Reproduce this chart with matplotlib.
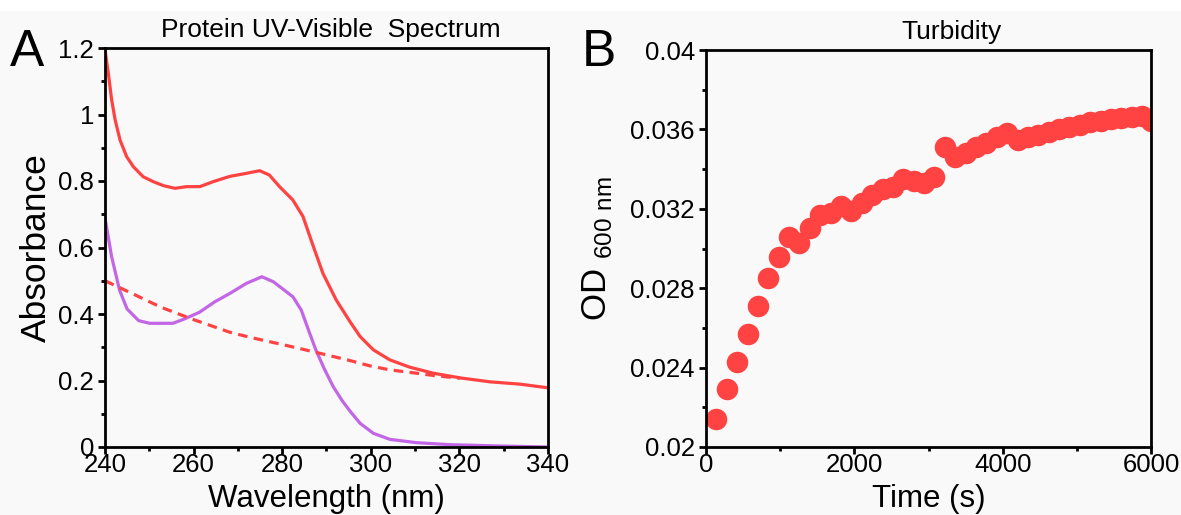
import matplotlib
matplotlib.use("Agg")
import matplotlib.pyplot as plt
from matplotlib.patches import Rectangle
from matplotlib.ticker import MultipleLocator, FixedLocator

plt.rcParams['font.family'] = ['Liberation Sans', 'DejaVu Sans']
plt.rcParams['mathtext.fontset'] = 'custom'
plt.rcParams['mathtext.rm'] = 'Liberation Sans'

# Panel A: UV-Vis spectra
wl_rot = [240, 240.75, 241.5, 242.3, 243.4, 244.9, 246.4, 248.6, 250.9, 253.2, 255.8,
          258.4, 261.4, 264.4, 268.2, 271.9, 274.9, 277.1, 279.4, 282.4, 284.7,
          286.9, 289.2, 292.2, 295.3, 297.6, 300.6, 304.3, 308.8, 314.1, 320.1,
          326.9, 333.7, 340]
abs_rot = [1.195, 1.124, 1.044, 0.983, 0.923, 0.873, 0.843, 0.813, 0.798, 0.786, 0.778,
           0.783, 0.783, 0.798, 0.814, 0.823, 0.831, 0.818, 0.783, 0.743, 0.693,
           0.608, 0.522, 0.442, 0.377, 0.332, 0.292, 0.262, 0.240, 0.222, 0.208,
           0.196, 0.189, 0.178]

wl_lila = [240, 241.5, 243.3, 245.0, 247.6, 250.1, 255.3, 257.9, 261.3, 264.7, 268.2,
           271.9, 275.4, 278.0, 282.4, 284.3, 286.2, 287.6, 289.5, 291.5, 293.5,
           295.3, 297.6, 300.6, 304.3, 310.3, 317.9, 329.2, 340]
abs_lila = [0.689, 0.572, 0.471, 0.415, 0.380, 0.372, 0.372, 0.385, 0.405, 0.436, 0.462,
            0.492, 0.512, 0.497, 0.452, 0.412, 0.342, 0.292, 0.235, 0.182, 0.140,
            0.108, 0.071, 0.041, 0.023, 0.013, 0.007, 0.003, 0.0]

wl_streu = [240, 246.7, 252.7, 259.6, 268.2, 272.7, 279.4, 284.0, 290.0, 295.3,
            299.8, 304.3, 310.3, 314.8, 320.1]
abs_streu = [0.500, 0.458, 0.420, 0.385, 0.345, 0.330, 0.310, 0.296, 0.277, 0.260,
             0.244, 0.232, 0.222, 0.214, 0.207]

# Panel B: turbidity
zeit = [0, 140, 280, 420, 560, 700, 840, 980, 1120, 1260, 1400, 1540, 1680, 1820,
        1960, 2100, 2240, 2380, 2520, 2660, 2800, 2940, 3080, 3220, 3360, 3500,
        3640, 3780, 3920, 4060, 4200, 4340, 4480, 4620, 4760, 4900, 5040, 5180,
        5320, 5460, 5600, 5740, 5880, 6000]
od600 = [0.0195, 0.0214, 0.0229, 0.0243, 0.0257, 0.0271, 0.0285, 0.02955, 0.0306,
         0.0303, 0.03105, 0.0317, 0.0318, 0.03215, 0.0319, 0.0323, 0.0327, 0.0330,
         0.0331, 0.0335, 0.0334, 0.0333, 0.0336, 0.0351, 0.0346, 0.0348, 0.0351,
         0.0353, 0.0356, 0.0358, 0.03546, 0.0356, 0.0357, 0.03585, 0.0360, 0.0361,
         0.0362, 0.03635, 0.0364, 0.0365, 0.03655, 0.0366, 0.0367, 0.0364]

rot = '#ff4242'
lila = '#c266e6'
grau = '#f9f9f9'

fig = plt.figure(figsize=(11.81, 5.15), dpi=100, facecolor=grau)
fig.patches.append(Rectangle((0, 1 - 10 / 515), 1, 10 / 515, transform=fig.transFigure,
                             color='white', zorder=-1))

axA = fig.add_axes([105 / 1181, 1 - 447 / 515, 443 / 1181, 399 / 515], facecolor=grau)
axB = fig.add_axes([706 / 1181, 1 - 447 / 515, 445 / 1181, 397 / 515], facecolor=grau)

axA.plot(wl_rot, abs_rot, color=rot, lw=2.3, solid_joinstyle='round')
axA.plot(wl_lila, abs_lila, color=lila, lw=2.3, solid_joinstyle='round')
axA.plot(wl_streu, abs_streu, color=rot, lw=2.3, ls=(0, (3, 2)))
axA.set_xlim(240, 340)
axA.set_ylim(0, 1.2)
axA.xaxis.set_major_locator(MultipleLocator(20))
axA.xaxis.set_minor_locator(MultipleLocator(10))
axA.yaxis.set_major_locator(FixedLocator([0, 0.2, 0.4, 0.6, 0.8, 1.0, 1.2]))
axA.yaxis.set_minor_locator(MultipleLocator(0.1))
axA.set_yticklabels(['0', '0.2', '0.4', '0.6', '0.8', '1', '1.2'])
axA.set_xlabel('Wavelength (nm)', fontsize=22.5, labelpad=5)
axA.set_ylabel('Absorbance', fontsize=25.5, labelpad=4)
axA.set_title('Protein UV-Visible  Spectrum', fontsize=19, x=0.51, pad=8)

axB.plot(zeit, od600, 'o', color=rot, ms=15.5, mec='none')
axB.set_xlim(0, 6000)
axB.set_ylim(0.02, 0.04)
axB.xaxis.set_major_locator(MultipleLocator(2000))
axB.xaxis.set_minor_locator(MultipleLocator(1000))
axB.yaxis.set_major_locator(FixedLocator([0.02, 0.024, 0.028, 0.032, 0.036, 0.04]))
axB.yaxis.set_minor_locator(MultipleLocator(0.002))
axB.set_yticklabels(['0.02', '0.024', '0.028', '0.032', '0.036', '0.04'])
axB.set_xlabel('Time (s)', fontsize=22.5, labelpad=5)
axB.set_ylabel(r'OD $_{\mathregular{600\ nm}}$', fontsize=25, labelpad=12)
axB.set_title('Turbidity', fontsize=19, x=0.552, pad=8)

for ax in (axA, axB):
    for s in ax.spines.values():
        s.set_linewidth(2.0)
        s.set_color('black')
    ax.tick_params(which='major', direction='out', length=5, width=2, labelsize=18.5, pad=3)
    ax.tick_params(which='minor', direction='out', length=3, width=2)
    ax.tick_params(axis='x', which='major', pad=-1)

fig.text(10 / 1181, 1 - 66 / 515, 'A', fontsize=37)
fig.text(582 / 1181, 1 - 66 / 515, 'B', fontsize=37)

fig.savefig('out.png', dpi=100, facecolor=grau)
